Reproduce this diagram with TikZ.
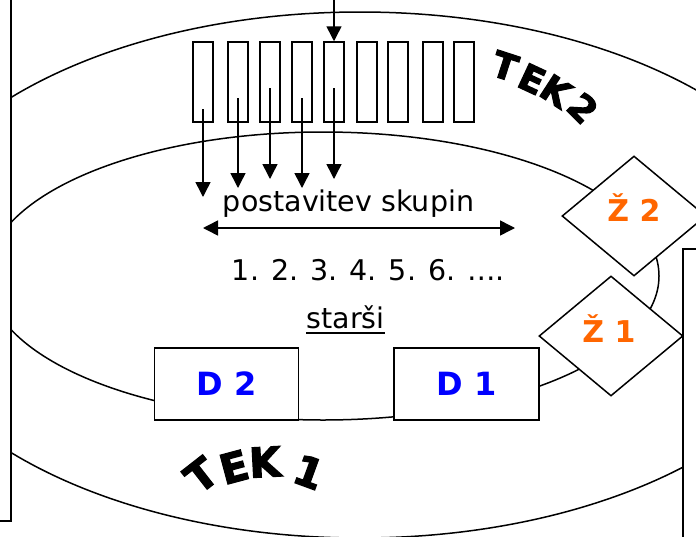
\documentclass[tikz,border=0pt]{standalone}
\usepackage{fontspec}
\setmainfont{DejaVu Sans}
\newfontfamily\tekfont[FakeBold=3]{DejaVu Sans}
\usetikzlibrary{arrows.meta,shapes.geometric}
\definecolor{zorange}{RGB}{255,102,0}
\tikzset{
  line/.style={line width=1.5pt},
  arr/.style={line width=1.5pt,-{Triangle[length=15pt,width=15pt]}},
  slot/.style={draw,line width=1.5pt,fill=white,minimum width=20pt,minimum height=80pt,inner sep=0pt},
  dbox/.style={draw,line width=1.5pt,fill=white,minimum width=144pt,minimum height=72pt,inner sep=0pt,
    text=blue,font=\fontsize{32}{36}\selectfont\bfseries},
  zbox/.style={diamond,draw,line width=1.5pt,fill=white,minimum width=144pt,minimum height=120pt,inner sep=0pt},
  zlab/.style={text=zorange,font=\fontsize{30}{34}\selectfont\bfseries,inner sep=0pt},
  lab/.style={font=\fontsize{28.5}{34}\selectfont,inner sep=0pt},
  tekA/.style={font=\tekfont\fontsize{41}{46}\selectfont\bfseries,inner sep=0pt},
  tekB/.style={font=\tekfont\fontsize{36}{40}\selectfont\bfseries,inner sep=0pt},
}
\begin{document}
\begin{tikzpicture}[x=1pt,y=-1pt]
  \useasboundingbox (0,0) rectangle (696,536);
  \clip (0,0) rectangle (696,536);
  % two lanes
  \draw[line] (360,275) ellipse [x radius=473pt, y radius=263pt];
  \draw[line] (323,276) ellipse [x radius=336pt, y radius=144pt];
  \draw[line,fill=white] (-5,-5) rectangle (11,521);
  \draw[line,fill=white] (683,249) rectangle (705,545);
  %
  \foreach \x [count=\i] in {203,238,270,302,334,367,398,433,464}
    \node[slot] (r\i) at (\x,82) {};
  \coordinate (top) at (334,-2);
  \draw[arr] (top) -- (r5.north);
  \foreach \i/\ys/\ye in {1/109/197,2/98/188,3/88/179,4/98/188,5/88/179}{
    \coordinate (s\i) at (r\i |- 0,\ys);
    \coordinate (e\i) at (r\i |- 0,\ye);
    \draw[arr] (s\i) -- (e\i);
  }
  %
  \node[lab,anchor=base] (title) at (348.5,211) {postavitev skupin};
  \coordinate (al) at (203,228);
  \coordinate (ar) at (515,228);
  \draw[arr,{Triangle[length=15pt,width=15pt]}-{Triangle[length=15pt,width=15pt]}] (al) -- (ar);
  \node[lab,anchor=base] (order) at (368.5,280) {1. 2. 3. 4. 5. 6. ….};
  \node[lab,anchor=base] (parents) at (345.5,328) {starši};
  \draw[line width=1.4pt] ([yshift=-5pt]parents.base west) -- ([yshift=-5pt]parents.base east);
  %
  \node[dbox] (D2) at (226.5,384) {D 2};
  \node[dbox,minimum width=145pt] (D1) at (466.5,384) {D 1};
  \node[zbox] (Z2) at (634,216) {};
  \node[zlab] (Z2t) at (634,207.5) {Ž 2};
  \node[zbox] (Z1) at (611,336) {};
  \node[zlab] (Z1t) at (609,328.5) {Ž 1};
  %
  \foreach \c/\x/\y/\a [count=\i] in {T/201/475/38,E/234/467/15,K/265/462/3,1/309/472/-20}
    \node[tekA,rotate=\a] (tekA\i) at (\x,\y) {\c};
  \foreach \c/\x/\y/\a [count=\i] in {T/505/66/-18,E/532/79/-25,K/556/91/-33,2/583/108/-45}
    \node[tekB,rotate=\a] (tekB\i) at (\x,\y) {\c};
\end{tikzpicture}
\end{document}
